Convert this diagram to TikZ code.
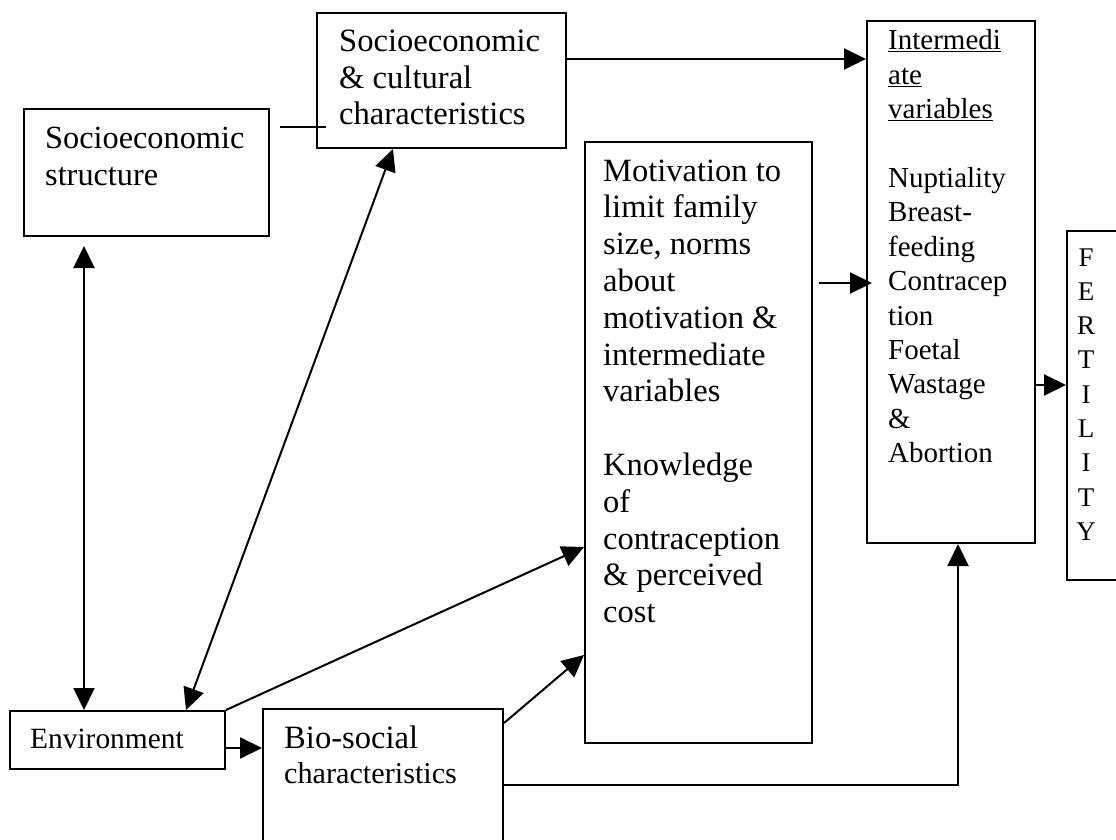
\documentclass[tikz,border=0pt]{standalone}
\usepackage{fontspec}
\setmainfont{Liberation Serif}
\usetikzlibrary{arrows.meta}

\newcommand{\fsz}[2]{\fontsize{#1}{#2}\selectfont}
\newcommand{\boxtext}[3]{\parbox[t]{300pt}{\raggedright\fsz{#1}{#2}#3}}

\begin{document}
\begin{tikzpicture}[
  x=1pt, y=-1pt,
  box/.style={draw, line width=2pt, anchor=north west, inner sep=0pt},
  txt/.style={anchor=base west, inner sep=0pt},
  arr/.style={-{Triangle[length=22pt, width=21pt]}, line width=2pt},
  dbl/.style={{Triangle[length=22pt, width=21pt]}-{Triangle[length=22pt, width=21pt]}, line width=2pt},
  link/.style={line width=2pt}
]
\useasboundingbox (0,0) rectangle (1116,840);
\clip (0,0) rectangle (1116,840);

% boxes
\node[box, minimum width=245pt, minimum height=127pt] (strc) at (23,108) {};
\node[box, minimum width=249pt, minimum height=135pt] (cult) at (316,12) {};
\node[box, minimum width=227pt, minimum height=601pt] (motv) at (584,141) {};
\node[box, minimum width=168pt, minimum height=522pt] (intm) at (866,20) {};
\node[box, minimum width=70pt, minimum height=349pt] (fert) at (1066,230) {};
\node[box, minimum width=215pt, minimum height=58pt] (env) at (9,710) {};
\node[box, minimum width=240pt, minimum height=160pt] (bio) at (262,708) {};

% texts
\node[txt] (strct) at (45,148) {\boxtext{32.3}{37}{Socioeconomic\\structure}};
\node[txt] (cultt) at (339,52) {\boxtext{32.6}{36.5}{Socioeconomic\\\& cultural\\characteristics}};
\node[txt] (motvt) at (603,181) {\boxtext{32.5}{36.8}{Motivation to\\limit family\\size, norms\\about\\motivation \&\\intermediate\\variables\\[36.8pt]Knowledge\\of\\contraception\\\& perceived\\cost}};
\node[txt] (intmt) at (888,50) {\boxtext{29}{34.4}{\underline{Intermedi}\\\underline{ate}\\\underline{variables}\\[34.4pt]Nuptiality\\Breast-\\feeding\\Contracep\\tion\\Foetal\\Wastage\\\&\\Abortion}};
\node[anchor=base, inner sep=0pt] (fertt) at (1086,266) {\parbox[t]{40pt}{\centering\fsz{27}{34.3}F\\E\\R\\T\\I\\L\\I\\T\\Y}};
\node[txt] (envt) at (30,748) {\boxtext{29.4}{35}{Environment}};
\node[txt] (biot) at (284,748) {\boxtext{32.6}{35}{Bio-social\\\fsz{30.2}{35}characteristics}};

% connectors
\draw[link] ([xshift=10pt, yshift=-19pt]strc.north east) -- ([xshift=10pt, yshift=-19pt]strc.north east -| cult.west);
\draw[dbl, shorten <=9pt] ([xshift=61pt]strc.south west) -- ([xshift=75pt]env.north west);
\draw[dbl] ([xshift=77pt]cult.south west) -- ([xshift=177pt]env.north west);
\draw[arr] ([yshift=-47pt]cult.north east) -- ([yshift=-47pt]cult.north east -| intm.west);
\draw[arr] ([xshift=6pt, yshift=-142pt]motv.north east) -- ([xshift=6pt, yshift=-142pt]motv.north east -| intm.west);
\draw[arr] ([yshift=-365pt]intm.north east) -- ([yshift=-365pt]intm.north east -| fert.west);
\draw[arr] (env.north east) -- ([yshift=-406pt]motv.north west);
\draw[arr] ([yshift=-15pt]bio.north east) -- ([yshift=-514pt]motv.north west);
\draw[arr] ([yshift=-38pt]env.north east) -- ([yshift=-38pt]env.north east -| bio.west);
\draw[arr] ([yshift=-77pt]bio.north east) -| ([xshift=92pt]intm.south west);
\end{tikzpicture}
\end{document}
